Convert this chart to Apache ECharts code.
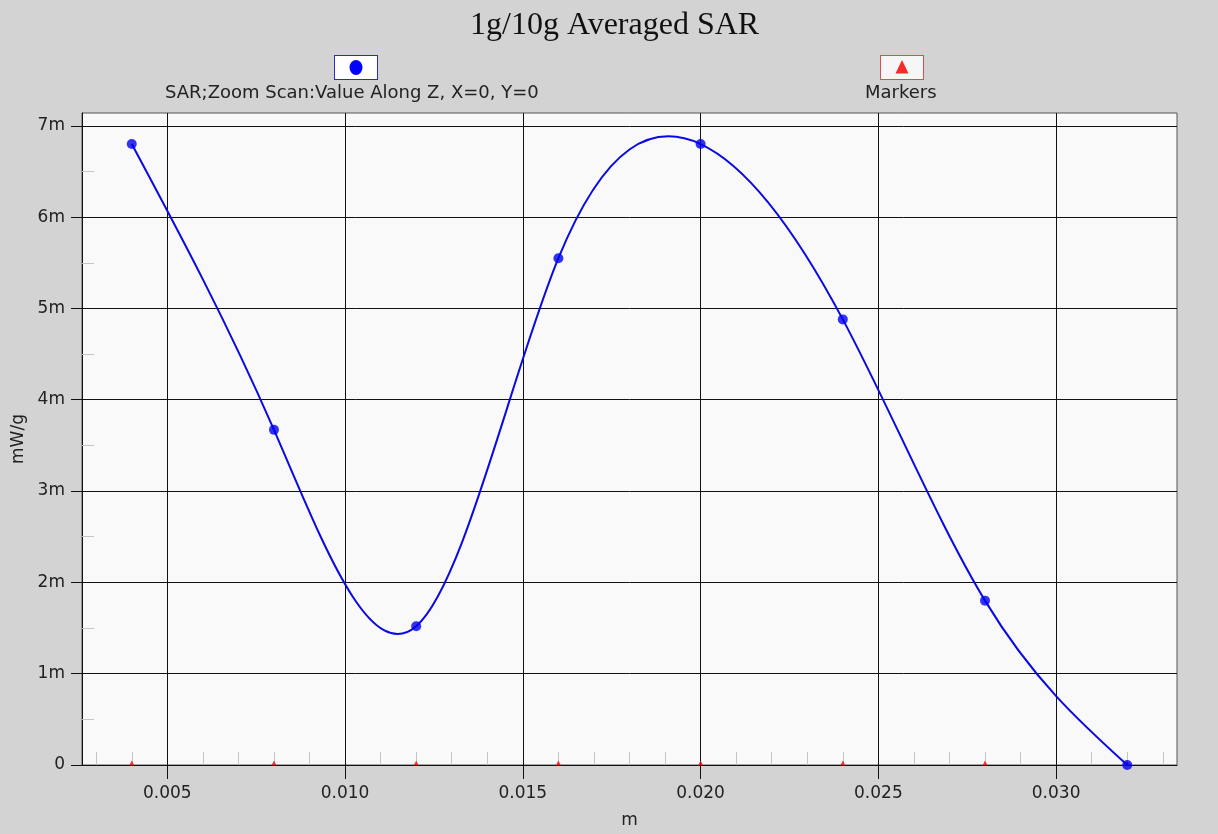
<!DOCTYPE html>
<html>
<head>
<meta charset="utf-8">
<script src="https://cdn.jsdelivr.net/npm/echarts@6/dist/echarts.min.js"></script>
<style>
  html, body { margin: 0; padding: 0; background: #d3d3d3; }
  #chart { width: 1218px; height: 834px; }
</style>
</head>
<body>
<div id="chart"></div>
<script>
// Position along Z (m)
const zPositions = [0.004, 0.008, 0.012, 0.016, 0.020, 0.024, 0.028, 0.032];
// Averaged SAR along Z (mW/g)
const sarValues = [0.0068, 0.00367, 0.00152, 0.00555, 0.0068, 0.00488, 0.0018, 0.0];
// Marker positions sit on the baseline
const markerValues = [0, 0, 0, 0, 0, 0, 0, 0];

// Tick values
const xMajorTicks = [0.005, 0.010, 0.015, 0.020, 0.025, 0.030];
const xMinorTicks = [0.003, 0.004, 0.006, 0.007, 0.008, 0.009, 0.011, 0.012, 0.013, 0.014,
                     0.016, 0.017, 0.018, 0.019, 0.021, 0.022, 0.023, 0.024, 0.026, 0.027,
                     0.028, 0.029, 0.031, 0.032, 0.033];
const yMajorTicks = [0, 0.001, 0.002, 0.003, 0.004, 0.005, 0.006, 0.007];
const yMinorTicks = [0.0005, 0.0015, 0.0025, 0.0035, 0.0045, 0.0055, 0.0065];

const sarName = 'SAR;Zoom Scan:Value Along Z, X=0, Y=0';
const markerName = 'Markers';

const X_MIN = 0.0026, X_MAX = 0.0334;
const Y_MIN = 0, Y_MAX = 0.00714;

const FONT = 'DejaVu Sans, Verdana, sans-serif';

// Node slopes (dy/dx) of the natural cubic spline through the samples,
// so each interval can be drawn as one cubic Bezier segment.
function splineSlopes(xs, ys) {
  const n = xs.length;
  const h = [];
  for (let i = 0; i < n - 1; i++) h.push(xs[i + 1] - xs[i]);
  const a = [], b = [], c = [], d = [];
  for (let i = 1; i < n - 1; i++) {
    a.push(h[i - 1]);
    b.push(2 * (h[i - 1] + h[i]));
    c.push(h[i]);
    d.push(6 * ((ys[i + 1] - ys[i]) / h[i] - (ys[i] - ys[i - 1]) / h[i - 1]));
  }
  const m = b.length;
  for (let i = 1; i < m; i++) {
    const w = a[i] / b[i - 1];
    b[i] -= w * c[i - 1];
    d[i] -= w * d[i - 1];
  }
  const sol = new Array(m);
  sol[m - 1] = d[m - 1] / b[m - 1];
  for (let i = m - 2; i >= 0; i--) sol[i] = (d[i] - c[i] * sol[i + 1]) / b[i];
  const M = new Array(n).fill(0);
  for (let i = 0; i < m; i++) M[i + 1] = sol[i];
  const slopes = [];
  for (let i = 0; i < n; i++) {
    if (i < n - 1) slopes.push((ys[i + 1] - ys[i]) / h[i] - h[i] * (2 * M[i] + M[i + 1]) / 6);
    else slopes.push((ys[i] - ys[i - 1]) / h[i - 1] + h[i - 1] * (M[i - 1] + 2 * M[i]) / 6);
  }
  return slopes;
}
const sarSlopes = splineSlopes(zPositions, sarValues);

function svgIcon(body) {
  return 'image://data:image/svg+xml;charset=utf-8,' + encodeURIComponent(
    "<svg xmlns='http://www.w3.org/2000/svg' width='44' height='25' viewBox='0 0 44 25'>" + body + "</svg>");
}
const sarIcon = svgIcon("<rect x='0.5' y='0.5' width='43' height='24' fill='#ffffff' stroke='#2a2ad0' stroke-width='1'/>" +
  "<ellipse cx='22' cy='12.5' rx='6.5' ry='7.5' fill='#0000ff'/>");
const markerIcon = svgIcon("<rect x='0.5' y='0.5' width='43' height='24' fill='#ffffff' stroke='#d83030' stroke-width='1'/>" +
  "<polygon points='22,5 28.5,18.5 15.5,18.5' fill='#ff0000'/>");

const chart = echarts.init(document.getElementById('chart'), null, { renderer: 'canvas' });

const yFmt = v => (Math.abs(v) < 1e-12 ? '0' : Math.round(v * 1000) + 'm');

const sarPoints = zPositions.map((z, i) => [z, sarValues[i]]);

chart.setOption({
  backgroundColor: '#d3d3d3',
  animation: false,
  title: {
    text: '1g/10g Averaged SAR',
    left: 465,
    top: 5,
    textStyle: { fontFamily: 'Liberation Serif, Times New Roman, serif', fontSize: 32, fontWeight: 'normal', color: '#111' }
  },
  legend: [
    { data: [sarName], left: 334, top: 55, padding: 0, itemWidth: 44, itemHeight: 25, icon: sarIcon, formatter: () => '', itemGap: 0 },
    { data: [markerName], left: 880, top: 55, padding: 0, itemWidth: 44, itemHeight: 25, icon: markerIcon, formatter: () => '', itemGap: 0 }
  ],
  graphic: [
    { type: 'text', left: 165, top: 84, style: { text: sarName, font: '18px ' + FONT, fill: '#222' } },
    { type: 'text', left: 865, top: 84, style: { text: markerName, font: '18px ' + FONT, fill: '#222' } }
  ],
  grid: {
    left: 82, right: 41, top: 113, bottom: 65,
    show: true, backgroundColor: '#f9f9f9', borderColor: '#555', borderWidth: 1
  },
  xAxis: [
    {
      type: 'value', min: X_MIN, max: X_MAX, position: 'bottom',
      name: 'm', nameLocation: 'middle', nameGap: 47,
      nameTextStyle: { fontFamily: FONT, fontSize: 17, color: '#222' },
      axisLine: { show: true, lineStyle: { color: '#111', width: 1 } },
      axisTick: { show: true, customValues: xMajorTicks, length: 14, lineStyle: { color: '#111' } },
      axisLabel: { customValues: xMajorTicks, formatter: v => v.toFixed(3), margin: 20,
                   fontFamily: FONT, fontSize: 17, color: '#222' },
      splitLine: { show: true, lineStyle: { color: '#111', width: 1 } }
    },
    {
      type: 'value', min: X_MIN, max: X_MAX, position: 'bottom',
      axisLine: { show: false },
      axisTick: { show: true, inside: true, customValues: xMinorTicks, length: 13, lineStyle: { color: '#c4c4c4' } },
      axisLabel: { show: false },
      splitLine: { show: false }
    }
  ],
  yAxis: [
    {
      type: 'value', min: Y_MIN, max: Y_MAX, position: 'left',
      name: 'mW/g', nameLocation: 'middle', nameGap: 55, nameRotate: 90,
      nameTextStyle: { fontFamily: FONT, fontSize: 17, color: '#222' },
      axisLine: { show: true, lineStyle: { color: '#111', width: 1 } },
      axisTick: { show: true, customValues: yMajorTicks, length: 11, lineStyle: { color: '#111' } },
      axisLabel: { customValues: yMajorTicks, formatter: yFmt, margin: 17,
                   fontFamily: FONT, fontSize: 17, color: '#222' },
      splitLine: { show: true, lineStyle: { color: '#111', width: 1 } }
    },
    {
      type: 'value', min: Y_MIN, max: Y_MAX, position: 'left',
      axisLine: { show: false },
      axisTick: { show: true, inside: true, customValues: yMinorTicks, length: 12, lineStyle: { color: '#c4c4c4' } },
      axisLabel: { show: false },
      splitLine: { show: false }
    }
  ],
  series: [
    {
      name: markerName,
      type: 'scatter',
      xAxisIndex: 0, yAxisIndex: 0,
      symbol: 'triangle', symbolSize: [5, 5], symbolOffset: [0, -2],
      itemStyle: { color: '#ff0000' },
      data: zPositions.map((z, i) => [z, markerValues[i]]),
      z: 2
    },
    {
      // spline curve through the samples
      name: sarName,
      type: 'custom',
      xAxisIndex: 0, yAxisIndex: 0,
      silent: true,
      encode: { x: 0, y: 1 },
      data: sarPoints,
      renderItem: function (params, api) {
        const i = params.dataIndex;
        if (i >= zPositions.length - 1) return null;
        const x0 = zPositions[i], y0 = sarValues[i];
        const x1 = zPositions[i + 1], y1 = sarValues[i + 1];
        const h3 = (x1 - x0) / 3;
        const p0 = api.coord([x0, y0]);
        const p1 = api.coord([x1, y1]);
        const c0 = api.coord([x0 + h3, y0 + sarSlopes[i] * h3]);
        const c1 = api.coord([x1 - h3, y1 - sarSlopes[i + 1] * h3]);
        return {
          type: 'bezierCurve',
          shape: { x1: p0[0], y1: p0[1], x2: p1[0], y2: p1[1],
                   cpx1: c0[0], cpy1: c0[1], cpx2: c1[0], cpy2: c1[1] },
          style: { stroke: '#0a0ae0', lineWidth: 2, fill: 'none' }
        };
      },
      z: 3
    },
    {
      name: sarName,
      type: 'scatter',
      xAxisIndex: 0, yAxisIndex: 0,
      symbol: 'circle', symbolSize: 10,
      itemStyle: { color: '#0000f0' },
      data: sarPoints,
      z: 4
    }
  ]
});
</script>
</body>
</html>
